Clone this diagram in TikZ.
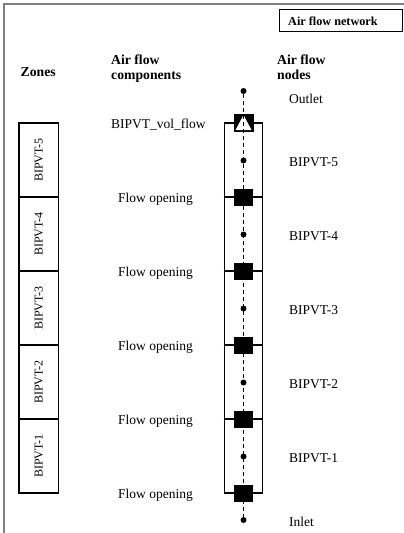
\documentclass[tikz,border=0pt]{standalone}
\usepackage{fontspec}
\setmainfont{Liberation Serif}
\begin{document}
\begin{tikzpicture}[x=1pt,y=-1pt,
  lbl/.style={font=\fontsize{13.5}{15}\selectfont, inner sep=0pt, anchor=base west},
  hdr/.style={font=\fontsize{13.7}{15}\selectfont\bfseries, inner sep=0pt, anchor=base west},
  zonebox/.style={draw, line width=1.1pt, rotate=90, minimum width=74pt, minimum height=39.5pt,
                  inner sep=0pt, font=\fontsize{12}{14}\selectfont},
  opening/.style={fill=black, minimum width=19pt, minimum height=17pt, inner sep=0pt},
  airnode/.style={circle, fill=black, minimum size=6pt, inner sep=0pt},
  tubebox/.style={draw, line width=1.2pt, minimum width=38.5pt, minimum height=370pt, inner sep=0pt},
  crossline/.style={line width=1.2pt},
  flowpath/.style={line width=1.2pt, dash pattern=on 4pt off 3pt},
  frameline/.style={line width=1.6pt, draw=black!50}
]
\useasboundingbox (0,0) rectangle (404,533);

% outer frame (top and left edges only)
\draw[frameline] (4,533) -- (4,4) -- (404,4);

% title box
\node[draw, line width=1pt, minimum width=123.5pt, minimum height=22pt, inner sep=0pt] (netbox) at (341,20.5) {};
\node[font=\fontsize{12.2}{14}\selectfont\bfseries, inner sep=0pt, anchor=base west] (nettitle) at (288,25) {Air flow network};

% column headers
\node[hdr] (hz) at (20.5,76.5) {Zones};
\node[hdr] (hc1) at (111,64.5) {Air flow};
\node[hdr] (hc2) at (111,79.5) {components};
\node[hdr] (hn1) at (277,64.5) {Air flow};
\node[hdr] (hn2) at (277,79.5) {nodes};

% thermal zones
\node[zonebox] (z1) at (38.75,456) {BIPVT-1};
\node[zonebox] (z2) at (38.75,382) {BIPVT-2};
\node[zonebox] (z3) at (38.75,308) {BIPVT-3};
\node[zonebox] (z4) at (38.75,234) {BIPVT-4};
\node[zonebox] (z5) at (38.75,160) {BIPVT-5};

% air channel
\node[tubebox] (tube) at (243.5,308) {};

% flow openings
\node[opening] (o1) at (243.5,493) {};
\node[opening] (o2) at (243.5,419) {};
\node[opening] (o3) at (243.5,345) {};
\node[opening] (o4) at (243.5,271) {};
\node[opening] (o5) at (243.5,197) {};
\foreach \k in {2,...,5} {
  \draw[crossline] (tube.west |- o\k) -- (o\k.west);
  \draw[crossline] (o\k.east) -- (tube.east |- o\k);
}

% volume flow component (fan)
\node[opening, minimum width=20pt, minimum height=18pt] (vf) at (243.5,123) {};
\fill[white] (vf.center) ++(0,-8) -- ++(8,15) -- ++(-16,0) -- cycle;

% air flow nodes
\node[airnode] (nout) at (243.5,91) {};
\node[airnode] (n5) at (243.5,160.5) {};
\node[airnode] (n4) at (243.5,234.5) {};
\node[airnode] (n3) at (243.5,308.5) {};
\node[airnode] (n2) at (243.5,382.5) {};
\node[airnode] (n1) at (243.5,456.5) {};
\node[airnode] (nin) at (243.5,520) {};

% flow path
\draw[flowpath] (nout) -- (nin);

% component labels
\node[lbl] (lvf) at (111,128) {BIPVT\_vol\_flow};
\node[lbl] (lo5) at (118,202) {Flow opening};
\node[lbl] (lo4) at (118,276) {Flow opening};
\node[lbl] (lo3) at (118,350) {Flow opening};
\node[lbl] (lo2) at (118,424) {Flow opening};
\node[lbl] (lo1) at (118,498) {Flow opening};

% node labels
\node[lbl] (lout) at (289,103.5) {Outlet};
\node[lbl] (ln5) at (289,166.5) {BIPVT-5};
\node[lbl] (ln4) at (289,240.5) {BIPVT-4};
\node[lbl] (ln3) at (289,314.5) {BIPVT-3};
\node[lbl] (ln2) at (289,388.5) {BIPVT-2};
\node[lbl] (ln1) at (289,462.5) {BIPVT-1};
\node[lbl] (lin) at (289,526) {Inlet};
\end{tikzpicture}
\end{document}
